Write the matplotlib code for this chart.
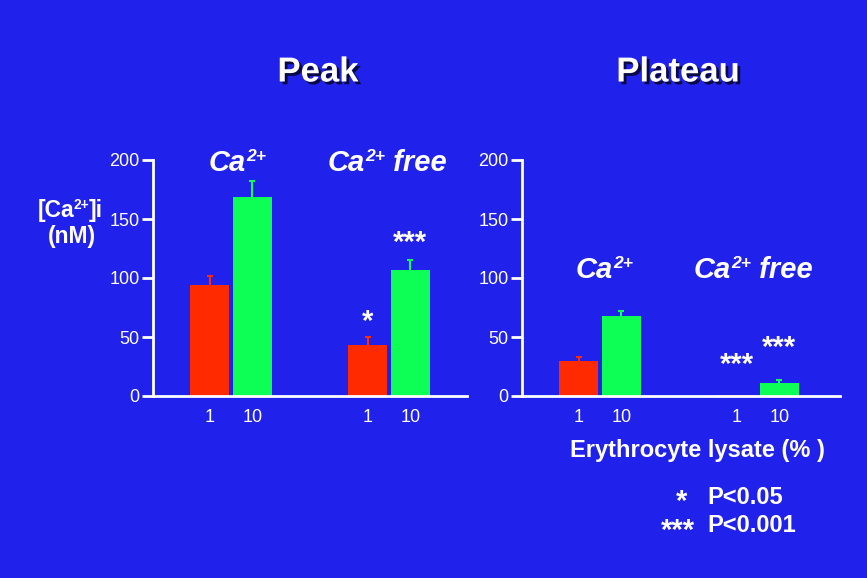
import matplotlib.pyplot as plt
import matplotlib.patheffects as pe
import numpy as np

plt.rcParams['font.family'] = 'Liberation Sans'

# data
doses = ['1', '10']
peak_ca = [94, 169]
peak_ca_err = [7.5, 13]
peak_free = [43.5, 106.5]
peak_free_err = [6.5, 9]
plat_ca = [29.5, 67.5]
plat_ca_err = [3.5, 4.5]
plat_free = [0.6, 11]
plat_free_err = [0, 2.8]

bg = '#2121ec'
red = '#ff2a00'
green = '#0dff55'

W, H = 867, 578
fig = plt.figure(figsize=(W / 100, H / 100), dpi=100)
fig.patch.set_facecolor(bg)


def px_axes(x0, x1, y0, y1):
    return fig.add_axes([x0 / W, 1 - y1 / H, (x1 - x0) / W, (y1 - y0) / H])


def draw_panel(ax, ca, ca_err, free, free_err, xmax):
    centers = [1.95, 5.9]
    off = 0.53
    bw = 0.97
    for c, vals, errs in zip(centers, [ca, free], [ca_err, free_err]):
        xs = [c - off, c + off]
        for x, v, e, col in zip(xs, vals, errs, [red, green]):
            ax.bar(x, v, width=bw, color=col, zorder=2)
            if e > 0:
                ax.vlines(x, v, v + e, color=col, lw=1.5, zorder=1)
                ax.hlines(v + e, x - 0.08, x + 0.08, color=col, lw=1.5, zorder=1)
    ax.set_xlim(0, xmax)
    ax.set_ylim(0, 200)
    ax.set_facecolor('none')
    for s in ['top', 'right']:
        ax.spines[s].set_visible(False)
    for s in ['left', 'bottom']:
        ax.spines[s].set_color('white')
        ax.spines[s].set_linewidth(2)
    ax.set_yticks([0, 50, 100, 150, 200])
    ax.tick_params(axis='y', colors='white', length=8, width=2, labelsize=13, pad=1.5)
    ticks = [centers[0] - off, centers[0] + off, centers[1] - off, centers[1] + off]
    ax.set_xticks(ticks)
    ax.set_xticklabels(doses * 2)
    ax.tick_params(axis='x', colors='white', length=0, labelsize=13, pad=9)
    return centers, off


ax1 = px_axes(153, 467, 160, 396)
c1, off = draw_panel(ax1, peak_ca, peak_ca_err, peak_free, peak_free_err, 7.85)
ax2 = px_axes(522, 840, 160, 396)
c2, off = draw_panel(ax2, plat_ca, plat_ca_err, plat_free, plat_free_err, 7.95)

shadow = [pe.withSimplePatchShadow(offset=(2, -2), shadow_rgbFace='black', alpha=0.7)]
fig.text(318 / W, 1 - 72 / H, 'Peak', color='white', fontsize=25, fontweight='bold',
         ha='center', va='center', path_effects=shadow)
fig.text(678 / W, 1 - 72 / H, 'Plateau', color='white', fontsize=25, fontweight='bold',
         ha='center', va='center', path_effects=shadow)


def ca_text(x, y, base, sup, tail='', size=21, style='italic', gap=0.99):
    # base text, superscript, then optional tail on the base line
    kw = dict(color='white', fontweight='bold', fontstyle=style)
    t = fig.text(x / W, 1 - y / H, base, fontsize=size, ha='left', va='baseline', **kw)
    s = ax2.annotate(sup, xy=(gap, 0.58), xycoords=t, fontsize=size * 0.6,
                     ha='left', va='baseline', annotation_clip=False, **kw)
    if tail:
        ax2.annotate(tail, xy=(1.0, 1 - y / H), xycoords=(s, 'figure fraction'),
                     fontsize=size, ha='left', va='baseline',
                     annotation_clip=False, **kw)
    return t


ca_text(209, 171, 'Ca', '2+')
ca_text(328, 171, 'Ca', '2+', ' free')
ca_text(576, 278, 'Ca', '2+')
ca_text(694, 278, 'Ca', '2+', ' free')

ca_text(38, 217, '[Ca', '2+', ']i', size=16.5, style='normal', gap=0.97)
fig.text(72 / W, 1 - 243 / H, '(nM)', color='white', fontsize=16.5, fontweight='bold',
         ha='center', va='baseline')

star_kw = dict(color='white', fontsize=21, fontweight='bold', ha='center', va='center')
ax1.text(c1[1] - off, 50 + 13, '*', **star_kw)
ax1.text(c1[1] + off, 115.8 + 14, '***', **star_kw)
ax2.text(c2[1] - off, 0.6 + 26, '***', **star_kw)
ax2.text(c2[1] + off, 13.8 + 27, '***', **star_kw)

fig.text(697 / W, 1 - 451 / H, 'Erythrocyte lysate (% )', color='white', fontsize=17,
         fontweight='bold', ha='center', va='center')
fig.text(682 / W, 1 - 502 / H, '*', color='white', fontsize=21, fontweight='bold',
         ha='center', va='center')
fig.text(707 / W, 1 - 498 / H, 'P<0.05', color='white', fontsize=17, fontweight='bold',
         ha='left', va='center')
fig.text(678 / W, 1 - 531 / H, '***', color='white', fontsize=21, fontweight='bold',
         ha='center', va='center')
fig.text(707 / W, 1 - 526 / H, 'P<0.001', color='white', fontsize=17, fontweight='bold',
         ha='left', va='center')

plt.savefig('out.png', dpi=100, facecolor=bg)
